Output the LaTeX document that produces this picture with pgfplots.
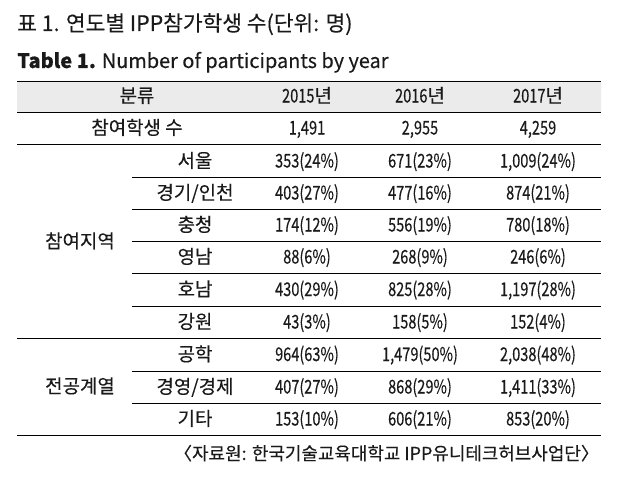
\documentclass[border=0pt]{standalone}
\usepackage{fontspec}
\setmainfont{Noto Sans CJK KR}
\newfontfamily\cjk{Noto Sans CJK KR}[FakeBold=0.25]
\newfontfamily\numf{Noto Sans CJK KR}[FakeStretch=0.77, FakeBold=0.25]
\newcommand\N[1]{{\numf\fontsize{19}{19}\selectfont #1}}
\usepackage{pgfplots}
\usepackage{pgfplotstable}
\pgfplotsset{compat=1.18}
\definecolor{txt}{HTML}{1A1A1A}
\definecolor{hdr}{HTML}{EBEBEB}
\begin{document}
\begin{tikzpicture}
\begin{axis}[
  width=622bp, height=478bp, scale only axis,
  xmin=0, xmax=622, ymin=0, ymax=478, y dir=reverse,
  axis lines=none, ticks=none, clip=false,
]
% invisible frame to fix the picture size
\addplot[draw=none] coordinates {(0,0) (622,478)};
% header background
\addplot[fill=hdr, draw=none] coordinates {(17,81) (601,81) (601,112) (17,112) (17,81)};
% full-width rules
\addplot[black, line width=0.9pt] coordinates {(17,81) (601,81)};
\addplot[black, line width=0.9pt] coordinates {(17,112) (601,112)};
\addplot[black, line width=0.9pt] coordinates {(17,144) (601,144)};
\addplot[black, line width=0.9pt] coordinates {(17,338) (601,338)};
\addplot[black, line width=0.9pt] coordinates {(17,435) (601,435)};
% partial rules
\addplot[black, line width=0.9pt] coordinates {(132,177) (601,177)};
\addplot[black, line width=0.9pt] coordinates {(132,209) (601,209)};
\addplot[black, line width=0.9pt] coordinates {(132,241) (601,241)};
\addplot[black, line width=0.9pt] coordinates {(132,273) (601,273)};
\addplot[black, line width=0.9pt] coordinates {(132,306) (601,306)};
\addplot[black, line width=0.9pt] coordinates {(132,371) (601,371)};
\addplot[black, line width=0.9pt] coordinates {(132,403) (601,403)};
% title lines (left aligned)
\addplot[draw=none, nodes near coords, point meta=explicit symbolic,
  every node near coord/.append style={anchor=base west, inner sep=0pt, text=txt, font=\cjk\fontsize{21.5}{21.5}\selectfont}]
  table[col sep=semicolon, meta=t] {
x;y;t
17;31;표 1. 연도별 IPP참가학생 수(단위: 명)
};
\addplot[draw=none, nodes near coords, point meta=explicit symbolic,
  every node near coord/.append style={anchor=base west, inner sep=0pt, text=txt, font=\cjk\fontsize{20}{20}\selectfont}]
  table[col sep=semicolon, meta=t] {
x;y;t
17;68;\textbf{Table 1.} Number of participants by year
};
% source (right aligned)
\addplot[draw=none, nodes near coords, point meta=explicit symbolic,
  every node near coord/.append style={anchor=base east, inner sep=0pt, text=txt, font=\cjk\fontsize{18}{18}\selectfont}]
  table[col sep=semicolon, meta=t] {
x;y;t
599;460;〈자료원: 한국기술교육대학교 IPP유니테크허브사업단〉
};
% table cells (centered)
\addplot[draw=none, nodes near coords, point meta=explicit symbolic,
  every node near coord/.append style={anchor=base, inner sep=0pt, text=txt, font=\cjk\fontsize{19}{19}\selectfont}]
  table[col sep=semicolon, meta=t] {
x;y;t
137;102.5;분류
307;102.5;\N{2015}년
420;102.5;\N{2016}년
538;102.5;\N{2017}년
137;134.5;참여학생 수
307;134.5;\N{1,491}
420;134.5;\N{2,955}
538;134.5;\N{4,259}
80;248;참여지역
195;167.5;서울
307;167.5;\N{353(24\%)}
420;167.5;\N{671(23\%)}
538;167.5;\N{1,009(24\%)}
195;199.5;경기/인천
307;199.5;\N{403(27\%)}
420;199.5;\N{477(16\%)}
538;199.5;\N{874(21\%)}
195;231.5;충청
307;231.5;\N{174(12\%)}
420;231.5;\N{556(19\%)}
538;231.5;\N{780(18\%)}
195;263.5;영남
307;263.5;\N{88(6\%)}
420;263.5;\N{268(9\%)}
538;263.5;\N{246(6\%)}
195;296;호남
307;296;\N{430(29\%)}
420;296;\N{825(28\%)}
538;296;\N{1,197(28\%)}
195;328.5;강원
307;328.5;\N{43(3\%)}
420;328.5;\N{158(5\%)}
538;328.5;\N{152(4\%)}
80;393;전공계열
195;361;공학
307;361;\N{964(63\%)}
420;361;\N{1,479(50\%)}
538;361;\N{2,038(48\%)}
195;393.5;경영/경제
307;393.5;\N{407(27\%)}
420;393.5;\N{868(29\%)}
538;393.5;\N{1,411(33\%)}
195;425.5;기타
307;425.5;\N{153(10\%)}
420;425.5;\N{606(21\%)}
538;425.5;\N{853(20\%)}
};
\end{axis}
\end{tikzpicture}
\end{document}
